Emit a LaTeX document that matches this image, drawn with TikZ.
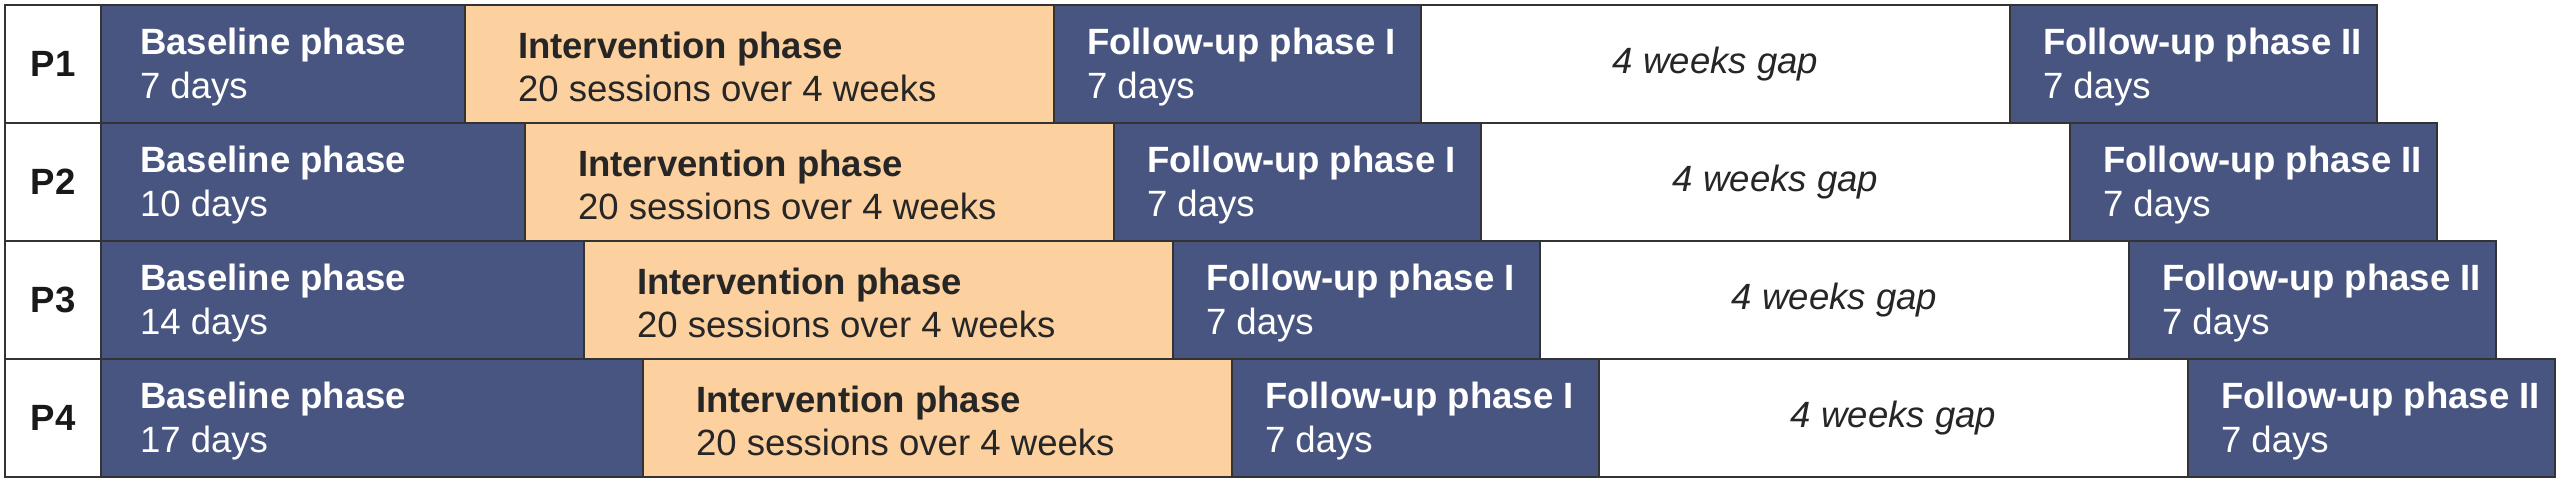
\documentclass[tikz,border=0pt]{standalone}
\usepackage{fontspec}
\setmainfont{Liberation Sans}
\usetikzlibrary{positioning}
\definecolor{navy}{HTML}{485580}
\definecolor{peach}{HTML}{FCD09F}
\definecolor{rulegray}{HTML}{333333}
\tikzset{
  cell/.style={draw=rulegray, line width=0.7pt, shape=rectangle,
    minimum height=1.18cm, inner sep=0pt, outer sep=0pt,
    font=\fontsize{10.4pt}{12.4pt}\selectfont},
  navybox/.style={cell, fill=navy},
  peachbox/.style={cell, fill=peach, minimum width=5.89cm},
  gapbox/.style={cell, fill=white, minimum width=5.89cm, text=black!85,
    font=\fontsize{10.4pt}{12.4pt}\selectfont\itshape},
  tag/.style={cell, fill=white, minimum width=0.96cm, text=black!90,
    font=\fontsize{10.4pt}{12.4pt}\selectfont\bfseries},
  lighttext/.style={inner sep=0pt, outer sep=0pt, align=left, text=white,
    yshift=-0.03cm, font=\fontsize{10.4pt}{12.4pt}\selectfont},
  darktext/.style={lighttext, text=black!85},
}
\begin{document}
\begin{tikzpicture}
\useasboundingbox (0,0) rectangle (25.6,-4.83);
% P1
\node (p1) [tag, anchor=north west] at (0.05,-0.05) {P1};
\node (base1) [navybox, minimum width=3.64cm, right=0pt of p1] {};
\node (int1) [peachbox, right=0pt of base1] {};
\node (fuI1) [navybox, minimum width=3.67cm, right=0pt of int1] {};
\node (gap1) [gapbox, right=0pt of fuI1] {4 weeks gap};
\node (fuII1) [navybox, minimum width=3.67cm, right=0pt of gap1] {};
\node (base1t) [lighttext, right=0.39cm of base1.west] {\textbf{Baseline phase}\\7 days};
\node (int1t) [darktext, right=0.53cm of int1.west] {\textbf{Intervention phase}\\20 sessions over 4 weeks};
\node (fuI1t) [lighttext, right=0.33cm of fuI1.west] {\textbf{Follow-up phase I}\\7 days};
\node (fuII1t) [lighttext, right=0.33cm of fuII1.west] {\textbf{Follow-up phase II}\\7 days};
% P2
\node (p2) [tag, below=0pt of p1] {P2};
\node (base2) [navybox, minimum width=4.24cm, right=0pt of p2] {};
\node (int2) [peachbox, right=0pt of base2] {};
\node (fuI2) [navybox, minimum width=3.67cm, right=0pt of int2] {};
\node (gap2) [gapbox, right=0pt of fuI2] {4 weeks gap};
\node (fuII2) [navybox, minimum width=3.67cm, right=0pt of gap2] {};
\node (base2t) [lighttext, right=0.39cm of base2.west] {\textbf{Baseline phase}\\10 days};
\node (int2t) [darktext, right=0.53cm of int2.west] {\textbf{Intervention phase}\\20 sessions over 4 weeks};
\node (fuI2t) [lighttext, right=0.33cm of fuI2.west] {\textbf{Follow-up phase I}\\7 days};
\node (fuII2t) [lighttext, right=0.33cm of fuII2.west] {\textbf{Follow-up phase II}\\7 days};
% P3
\node (p3) [tag, below=0pt of p2] {P3};
\node (base3) [navybox, minimum width=4.83cm, right=0pt of p3] {};
\node (int3) [peachbox, right=0pt of base3] {};
\node (fuI3) [navybox, minimum width=3.67cm, right=0pt of int3] {};
\node (gap3) [gapbox, right=0pt of fuI3] {4 weeks gap};
\node (fuII3) [navybox, minimum width=3.67cm, right=0pt of gap3] {};
\node (base3t) [lighttext, right=0.39cm of base3.west] {\textbf{Baseline phase}\\14 days};
\node (int3t) [darktext, right=0.53cm of int3.west] {\textbf{Intervention phase}\\20 sessions over 4 weeks};
\node (fuI3t) [lighttext, right=0.33cm of fuI3.west] {\textbf{Follow-up phase I}\\7 days};
\node (fuII3t) [lighttext, right=0.33cm of fuII3.west] {\textbf{Follow-up phase II}\\7 days};
% P4
\node (p4) [tag, below=0pt of p3] {P4};
\node (base4) [navybox, minimum width=5.42cm, right=0pt of p4] {};
\node (int4) [peachbox, right=0pt of base4] {};
\node (fuI4) [navybox, minimum width=3.67cm, right=0pt of int4] {};
\node (gap4) [gapbox, right=0pt of fuI4] {4 weeks gap};
\node (fuII4) [navybox, minimum width=3.67cm, right=0pt of gap4] {};
\node (base4t) [lighttext, right=0.39cm of base4.west] {\textbf{Baseline phase}\\17 days};
\node (int4t) [darktext, right=0.53cm of int4.west] {\textbf{Intervention phase}\\20 sessions over 4 weeks};
\node (fuI4t) [lighttext, right=0.33cm of fuI4.west] {\textbf{Follow-up phase I}\\7 days};
\node (fuII4t) [lighttext, right=0.33cm of fuII4.west] {\textbf{Follow-up phase II}\\7 days};
\end{tikzpicture}
\end{document}
